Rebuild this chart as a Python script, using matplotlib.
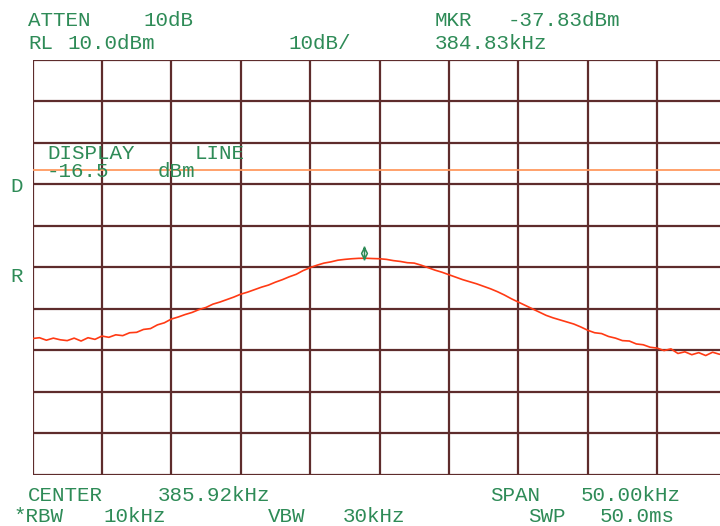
import numpy as np
import matplotlib
matplotlib.use("Agg")
import matplotlib.pyplot as plt
from matplotlib.path import Path
from matplotlib.transforms import ScaledTranslation

# ---- data ----
center_khz = 385.92
span_khz = 50.0
ref_level_dbm = 10.0
db_per_div = 10.0
display_line_dbm = -16.5
marker_freq_khz = 384.83
marker_level_dbm = -37.83

trace_dbm = [
    -57.2, -57.0, -57.6, -57.1, -57.5, -57.7, -57.1, -57.8, -57.0, -57.4,
    -56.6, -56.9, -56.3, -56.5, -55.8, -55.7, -55.0, -54.8, -53.9, -53.4,
    -52.5, -52.0, -51.4, -50.9, -50.2, -49.7, -48.9, -48.4, -47.8, -47.2,
    -46.5, -46.0, -45.4, -44.8, -44.3, -43.6, -43.0, -42.3, -41.7, -40.8,
    -40.1, -39.5, -39.0, -38.7, -38.3, -38.1, -37.95, -37.85, -37.83, -37.9,
    -37.95, -38.1, -38.4, -38.6, -38.9, -39.0, -39.5, -40.1, -40.7, -41.2,
    -41.8, -42.4, -43.0, -43.5, -44.0, -44.6, -45.2, -45.9, -46.7, -47.6,
    -48.4, -49.2, -50.0, -50.8, -51.6, -52.2, -52.7, -53.2, -53.7, -54.4,
    -55.2, -55.8, -56.0, -56.7, -57.1, -57.7, -57.8, -58.5, -58.7, -59.3,
    -59.5, -60.1, -59.7, -60.8, -60.4, -61.1, -60.6, -61.3, -60.5, -61.0,
    -60.6,
]

header_texts = [
    ("ATTEN", 28, 26), ("10dB", 143, 26), ("MKR", 435, 26), ("-37.83dBm", 508, 26),
    ("RL", 28, 49), ("10.0dBm", 67, 49), ("10dB/", 288, 49), ("384.83kHz", 435, 49),
]
footer_texts = [
    ("CENTER", 28, 501), ("385.92kHz", 158, 501), ("SPAN", 490, 501), ("50.00kHz", 581, 501),
    ("*RBW", 14, 522), ("10kHz", 103, 522), ("VBW", 268, 522), ("30kHz", 343, 522),
    ("SWP", 528, 522), ("50.0ms", 600, 522),
]
display_texts = [
    ("DISPLAY", 47, 159), ("LINE", 195, 159), ("-16.5", 47, 177), ("dBm", 158, 177),
    ("D", 10, 192), ("R", 10, 282),
]

# ---- figure ----
W, H = 720, 526
fig = plt.figure(figsize=(W / 100, H / 100), dpi=100)
fig.patch.set_facecolor("white")

left_px, top_px, div_w, div_h = 32.5, 60.0, 69.4, 41.45
ax = fig.add_axes([left_px / W, 1 - (top_px + 10 * div_h) / H, 10 * div_w / W, 10 * div_h / H])
ax.set_facecolor("white")

start = center_khz - span_khz / 2
stop = center_khz + span_khz / 2
bottom = ref_level_dbm - 10 * db_per_div
ax.set_xlim(start, stop)
ax.set_ylim(bottom, ref_level_dbm)

grid_color = "#5e2c2c"
ax.set_xticks(np.linspace(start, stop, 11))
ax.set_yticks(np.linspace(bottom, ref_level_dbm, 11))
ax.grid(True, color=grid_color, linewidth=1.6)
ax.tick_params(length=0, labelbottom=False, labelleft=False)
for s in ax.spines.values():
    s.set_visible(False)
ax.set_axisbelow(True)

freqs = np.linspace(start, stop, len(trace_dbm))
ax.plot(freqs, trace_dbm, color="#ff3a14", linewidth=1.2, zorder=3)

ax.axhline(display_line_dbm, color="#ff9a60", linewidth=1.3, zorder=2)

# marker symbol (thin diamond with stem), shifted a little above the trace
verts = [(0, 1), (0.5, 0), (0, -1), (-0.5, 0), (0, 1), (0, 1.2), (0, -1.2)]
codes = [Path.MOVETO, Path.LINETO, Path.LINETO, Path.LINETO, Path.CLOSEPOLY, Path.MOVETO, Path.LINETO]
mpath = Path(verts, codes)
off = ax.transData + ScaledTranslation(0, 3.5 / 72, fig.dpi_scale_trans)
ax.plot([marker_freq_khz], [marker_level_dbm], marker=mpath, markersize=10,
        markerfacecolor="none", markeredgecolor="#2e8b57", markeredgewidth=1.1,
        linestyle="none", transform=off, zorder=4, clip_on=False)

green = "#2e8b57"
font = dict(family=["Liberation Mono", "DejaVu Sans Mono"], size=15, color=green)
for txt, x, y in header_texts + footer_texts + display_texts:
    fig.text(x / W, 1 - y / H, txt, ha="left", va="baseline", **font)

fig.savefig("out.png", dpi=100, facecolor="white")
